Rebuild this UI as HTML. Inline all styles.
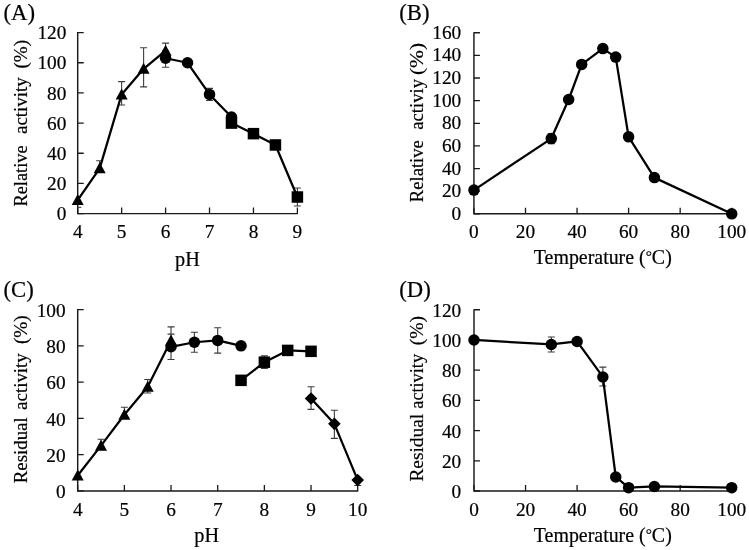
<!DOCTYPE html>
<html><head><meta charset="utf-8"><title>Figure</title>
<style>
html,body{margin:0;padding:0;background:#fff;}
body{width:749px;height:550px;overflow:hidden;}
svg{display:block;font-family:"Liberation Serif",serif;fill:#000;stroke:#000;stroke-width:0;filter:blur(0.4px);}
text{stroke-width:0.2px;}
</style></head><body>
<svg width="749" height="550" viewBox="0 0 749 550">
<rect width="749" height="550" fill="#fff"/>
<g><path d="M77.70 32.10V213.60H297.90" fill="none" stroke="#1a1a1a" stroke-width="1.45"/>
<text x="66.30" y="220.30" text-anchor="end" font-size="19.3">0</text>
<text x="66.30" y="190.13" text-anchor="end" font-size="19.3">20</text>
<text x="66.30" y="159.97" text-anchor="end" font-size="19.3">40</text>
<text x="66.30" y="129.80" text-anchor="end" font-size="19.3">60</text>
<text x="66.30" y="99.63" text-anchor="end" font-size="19.3">80</text>
<text x="66.30" y="69.47" text-anchor="end" font-size="19.3">100</text>
<text x="66.30" y="39.30" text-anchor="end" font-size="19.3">120</text>
<text x="77.70" y="237.70" text-anchor="middle" font-size="19.3">4</text>
<text x="121.64" y="237.70" text-anchor="middle" font-size="19.3">5</text>
<text x="165.58" y="237.70" text-anchor="middle" font-size="19.3">6</text>
<text x="209.52" y="237.70" text-anchor="middle" font-size="19.3">7</text>
<text x="253.46" y="237.70" text-anchor="middle" font-size="19.3">8</text>
<text x="297.40" y="237.70" text-anchor="middle" font-size="19.3">9</text>
<path d="M77.70 213.60h6 M77.70 183.43h6 M77.70 153.27h6 M77.70 123.10h6 M77.70 92.93h6 M77.70 62.77h6 M77.70 32.60h6 M77.70 213.60v-6 M121.64 213.60v-6 M165.58 213.60v-6 M209.52 213.60v-6 M253.46 213.60v-6 M297.40 213.60v-6" fill="none" stroke="#1a1a1a" stroke-width="1.3"/>
<path d="M99.67 160.81V168.35 M96.17 160.81h7 M121.64 81.62V105.00 M118.14 81.62h7 M118.14 105.00h7 M143.61 47.68V86.90 M140.11 47.68h7 M140.11 86.90h7 M165.58 43.16V58.24 M162.08 43.16h7 M162.08 58.24h7 M165.58 50.70V67.29 M162.08 50.70h7 M162.08 67.29h7 M209.52 88.41V100.47 M206.02 88.41h7 M206.02 100.47h7 M297.40 187.96V206.06 M293.90 187.96h7 M293.90 206.06h7 M275.43 140.45V149.50 M271.93 140.45h7 M271.93 149.50h7" fill="none" stroke="#3c3c3c" stroke-width="1.1"/>
<path d="M77.70 200.03 L99.67 168.35 L121.64 94.44 L143.61 68.80 L165.58 50.70" fill="none" stroke="#000" stroke-width="2.25" stroke-linejoin="round"/>
<path d="M77.70 194.03L83.70 205.03H71.70Z"/>
<path d="M99.67 162.35L105.67 173.35H93.67Z"/>
<path d="M121.64 88.44L127.64 99.44H115.64Z"/>
<path d="M143.61 62.80L149.61 73.80H137.61Z"/>
<path d="M165.58 44.70L171.58 55.70H159.58Z"/>
<path d="M165.58 58.24 L187.55 62.77 L209.52 94.44 L231.49 117.07" fill="none" stroke="#000" stroke-width="2.25" stroke-linejoin="round"/>
<circle cx="165.58" cy="58.24" r="5.75"/>
<circle cx="187.55" cy="62.77" r="5.75"/>
<circle cx="209.52" cy="94.44" r="5.75"/>
<circle cx="231.49" cy="117.07" r="5.75"/>
<path d="M231.49 123.10 L253.46 133.66 L275.43 144.97 L297.40 197.01" fill="none" stroke="#000" stroke-width="2.25" stroke-linejoin="round"/>
<rect x="225.74" y="117.35" width="11.5" height="11.5"/>
<rect x="247.71" y="127.91" width="11.5" height="11.5"/>
<rect x="269.68" y="139.22" width="11.5" height="11.5"/>
<rect x="291.65" y="191.26" width="11.5" height="11.5"/>
<text x="3.50" y="19.90" font-size="22.7">(A)</text>
<text transform="translate(27.20 206.60) rotate(-90)" font-size="19.4" textLength="61.20" lengthAdjust="spacingAndGlyphs">Relative</text>
<text transform="translate(27.20 134.00) rotate(-90)" font-size="19.4" textLength="56.70" lengthAdjust="spacingAndGlyphs">activity</text>
<text transform="translate(27.20 68.50) rotate(-90)" font-size="19.4" textLength="28.70" lengthAdjust="spacingAndGlyphs">(%)</text>
<text x="187.50" y="265.90" text-anchor="middle" font-size="20.3">pH</text><path d="M77.7 207.3h3.6" fill="none" stroke="#3c3c3c" stroke-width="1.1"/></g>
<g><path d="M473.93 32.23V213.84H732.23" fill="none" stroke="#1a1a1a" stroke-width="1.45"/>
<text x="461.23" y="219.94" text-anchor="end" font-size="19.3">0</text>
<text x="461.23" y="197.30" text-anchor="end" font-size="19.3">20</text>
<text x="461.23" y="174.66" text-anchor="end" font-size="19.3">40</text>
<text x="461.23" y="152.02" text-anchor="end" font-size="19.3">60</text>
<text x="461.23" y="129.38" text-anchor="end" font-size="19.3">80</text>
<text x="461.23" y="106.75" text-anchor="end" font-size="19.3">100</text>
<text x="461.23" y="84.11" text-anchor="end" font-size="19.3">120</text>
<text x="461.23" y="61.47" text-anchor="end" font-size="19.3">140</text>
<text x="461.23" y="38.83" text-anchor="end" font-size="19.3">160</text>
<text x="473.93" y="237.84" text-anchor="middle" font-size="19.3">0</text>
<text x="525.49" y="237.84" text-anchor="middle" font-size="19.3">20</text>
<text x="577.05" y="237.84" text-anchor="middle" font-size="19.3">40</text>
<text x="628.61" y="237.84" text-anchor="middle" font-size="19.3">60</text>
<text x="680.17" y="237.84" text-anchor="middle" font-size="19.3">80</text>
<text x="731.73" y="237.84" text-anchor="middle" font-size="19.3">100</text>
<path d="M473.93 213.84h6 M473.93 191.20h6 M473.93 168.56h6 M473.93 145.92h6 M473.93 123.28h6 M473.93 100.65h6 M473.93 78.01h6 M473.93 55.37h6 M473.93 32.73h6 M473.93 213.84v-6 M525.49 213.84v-6 M577.05 213.84v-6 M628.61 213.84v-6 M680.17 213.84v-6 M731.73 213.84v-6" fill="none" stroke="#1a1a1a" stroke-width="1.3"/>
<path d="M551.27 133.47V143.66 M547.77 133.47h7 M547.77 143.66h7 M602.83 45.18V51.97 M599.33 45.18h7 M599.33 51.97h7" fill="none" stroke="#3c3c3c" stroke-width="1.1"/>
<path d="M473.93 190.07 L551.27 138.57 L568.67 99.51 L581.69 64.42 L602.83 48.58 L615.72 57.07 L628.61 136.87 L654.39 177.62 L731.73 213.84" fill="none" stroke="#000" stroke-width="2.25" stroke-linejoin="round"/>
<circle cx="473.93" cy="190.07" r="5.75"/>
<circle cx="551.27" cy="138.57" r="5.75"/>
<circle cx="568.67" cy="99.51" r="5.75"/>
<circle cx="581.69" cy="64.42" r="5.75"/>
<circle cx="602.83" cy="48.58" r="5.75"/>
<circle cx="615.72" cy="57.07" r="5.75"/>
<circle cx="628.61" cy="136.87" r="5.75"/>
<circle cx="654.39" cy="177.62" r="5.75"/>
<circle cx="731.73" cy="213.84" r="5.75"/>
<text x="399.20" y="20.03" font-size="22.7">(B)</text>
<text transform="translate(423.20 202.20) rotate(-90)" font-size="19.4" textLength="62.00" lengthAdjust="spacingAndGlyphs">Relative</text>
<text transform="translate(423.20 129.70) rotate(-90)" font-size="19.4" textLength="50.70" lengthAdjust="spacingAndGlyphs">activiy</text>
<text transform="translate(423.20 75.10) rotate(-90)" font-size="19.4" textLength="32.30" lengthAdjust="spacingAndGlyphs">(%)</text>
<text x="602.80" y="263.90" text-anchor="middle" font-size="19.9">Temperature (<tspan font-size="15.5" dy="-3">°</tspan><tspan dy="3">C)</tspan></text></g>
<g><path d="M77.70 309.10V490.97H358.20" fill="none" stroke="#1a1a1a" stroke-width="1.45"/>
<text x="65.60" y="498.12" text-anchor="end" font-size="19.3">0</text>
<text x="65.60" y="461.85" text-anchor="end" font-size="19.3">20</text>
<text x="65.60" y="425.57" text-anchor="end" font-size="19.3">40</text>
<text x="65.60" y="389.30" text-anchor="end" font-size="19.3">60</text>
<text x="65.60" y="353.02" text-anchor="end" font-size="19.3">80</text>
<text x="65.60" y="316.75" text-anchor="end" font-size="19.3">100</text>
<text x="77.70" y="516.27" text-anchor="middle" font-size="19.3">4</text>
<text x="124.37" y="516.27" text-anchor="middle" font-size="19.3">5</text>
<text x="171.03" y="516.27" text-anchor="middle" font-size="19.3">6</text>
<text x="217.70" y="516.27" text-anchor="middle" font-size="19.3">7</text>
<text x="264.37" y="516.27" text-anchor="middle" font-size="19.3">8</text>
<text x="311.03" y="516.27" text-anchor="middle" font-size="19.3">9</text>
<text x="357.70" y="516.27" text-anchor="middle" font-size="19.3">10</text>
<path d="M77.70 490.97h6 M77.70 454.70h6 M77.70 418.42h6 M77.70 382.15h6 M77.70 345.87h6 M77.70 309.60h6 M77.70 490.97v-6 M124.37 490.97v-6 M171.03 490.97v-6 M217.70 490.97v-6 M264.37 490.97v-6 M311.03 490.97v-6 M357.70 490.97v-6" fill="none" stroke="#1a1a1a" stroke-width="1.3"/>
<path d="M101.03 439.28V445.63 M97.53 439.28h7 M124.37 407.18V414.79 M120.87 407.18h7 M147.70 379.43V393.03 M144.20 379.43h7 M144.20 393.03h7 M171.03 326.83V347.69 M167.53 326.83h7 M167.53 347.69h7 M171.03 334.08V359.48 M167.53 334.08h7 M167.53 359.48h7 M194.37 332.27V352.22 M190.87 332.27h7 M190.87 352.22h7 M217.70 327.74V353.13 M214.20 327.74h7 M214.20 353.13h7 M264.37 355.85V368.55 M260.87 355.85h7 M260.87 368.55h7 M311.03 386.68V409.35 M307.53 386.68h7 M307.53 409.35h7 M334.37 410.26V438.37 M330.87 410.26h7 M330.87 438.37h7 M357.70 480.09V485.53 M354.20 485.53h7" fill="none" stroke="#3c3c3c" stroke-width="1.1"/>
<path d="M77.70 475.55 L101.03 445.63 L124.37 414.79 L147.70 386.68 L171.03 340.43" fill="none" stroke="#000" stroke-width="2.25" stroke-linejoin="round"/>
<path d="M77.70 469.55L83.70 480.55H71.70Z"/>
<path d="M101.03 439.63L107.03 450.63H95.03Z"/>
<path d="M124.37 408.79L130.37 419.79H118.37Z"/>
<path d="M147.70 380.68L153.70 391.68H141.70Z"/>
<path d="M171.03 334.43L177.03 345.43H165.03Z"/>
<path d="M171.03 346.78 L194.37 342.25 L217.70 340.43 L241.03 345.87" fill="none" stroke="#000" stroke-width="2.25" stroke-linejoin="round"/>
<circle cx="171.03" cy="346.78" r="5.75"/>
<circle cx="194.37" cy="342.25" r="5.75"/>
<circle cx="217.70" cy="340.43" r="5.75"/>
<circle cx="241.03" cy="345.87" r="5.75"/>
<path d="M241.03 380.33 L264.37 362.20 L287.70 350.41 L311.03 351.32" fill="none" stroke="#000" stroke-width="2.25" stroke-linejoin="round"/>
<rect x="235.28" y="374.58" width="11.5" height="11.5"/>
<rect x="258.62" y="356.45" width="11.5" height="11.5"/>
<rect x="281.95" y="344.66" width="11.5" height="11.5"/>
<rect x="305.28" y="345.57" width="11.5" height="11.5"/>
<path d="M311.03 398.47 L334.37 423.86 L357.70 480.09" fill="none" stroke="#000" stroke-width="2.25" stroke-linejoin="round"/>
<path d="M311.03 392.17L317.33 398.47L311.03 404.77L304.73 398.47Z"/>
<path d="M334.37 417.56L340.67 423.86L334.37 430.16L328.07 423.86Z"/>
<path d="M357.70 473.79L364.00 480.09L357.70 486.39L351.40 480.09Z"/>
<text x="3.50" y="296.90" font-size="22.7">(C)</text>
<text transform="translate(27.20 483.30) rotate(-90)" font-size="19.4" textLength="66.00" lengthAdjust="spacingAndGlyphs">Residual</text>
<text transform="translate(27.20 409.90) rotate(-90)" font-size="19.4" textLength="56.70" lengthAdjust="spacingAndGlyphs">activity</text>
<text transform="translate(27.20 344.10) rotate(-90)" font-size="19.4" textLength="28.90" lengthAdjust="spacingAndGlyphs">(%)</text>
<text x="206.70" y="541.70" text-anchor="middle" font-size="20.3">pH</text></g>
<g><path d="M474.00 309.24V491.00H732.20" fill="none" stroke="#1a1a1a" stroke-width="1.45"/>
<text x="461.20" y="498.10" text-anchor="end" font-size="19.3">0</text>
<text x="461.20" y="467.89" text-anchor="end" font-size="19.3">20</text>
<text x="461.20" y="437.68" text-anchor="end" font-size="19.3">40</text>
<text x="461.20" y="407.47" text-anchor="end" font-size="19.3">60</text>
<text x="461.20" y="377.26" text-anchor="end" font-size="19.3">80</text>
<text x="461.20" y="347.05" text-anchor="end" font-size="19.3">100</text>
<text x="461.20" y="316.84" text-anchor="end" font-size="19.3">120</text>
<text x="474.00" y="516.30" text-anchor="middle" font-size="19.3">0</text>
<text x="525.54" y="516.30" text-anchor="middle" font-size="19.3">20</text>
<text x="577.08" y="516.30" text-anchor="middle" font-size="19.3">40</text>
<text x="628.62" y="516.30" text-anchor="middle" font-size="19.3">60</text>
<text x="680.16" y="516.30" text-anchor="middle" font-size="19.3">80</text>
<text x="731.70" y="516.30" text-anchor="middle" font-size="19.3">100</text>
<path d="M474.00 491.00h6 M474.00 460.79h6 M474.00 430.58h6 M474.00 400.37h6 M474.00 370.16h6 M474.00 339.95h6 M474.00 309.74h6 M474.00 491.00v-6 M525.54 491.00v-6 M577.08 491.00v-6 M628.62 491.00v-6 M680.16 491.00v-6 M731.70 491.00v-6" fill="none" stroke="#1a1a1a" stroke-width="1.3"/>
<path d="M551.31 336.93V352.03 M547.81 336.93h7 M547.81 352.03h7 M602.85 367.14V386.02 M599.35 367.14h7 M599.35 386.02h7" fill="none" stroke="#3c3c3c" stroke-width="1.1"/>
<path d="M474.00 339.95 L551.31 344.48 L577.08 341.46 L602.85 376.96 L615.74 476.95 L628.62 487.68 L654.39 486.47 L731.70 487.68" fill="none" stroke="#000" stroke-width="2.25" stroke-linejoin="round"/>
<circle cx="474.00" cy="339.95" r="5.75"/>
<circle cx="551.31" cy="344.48" r="5.75"/>
<circle cx="577.08" cy="341.46" r="5.75"/>
<circle cx="602.85" cy="376.96" r="5.75"/>
<circle cx="615.74" cy="476.95" r="5.75"/>
<circle cx="628.62" cy="487.68" r="5.75"/>
<circle cx="654.39" cy="486.47" r="5.75"/>
<circle cx="731.70" cy="487.68" r="5.75"/>
<text x="399.20" y="297.04" font-size="22.7">(D)</text>
<text transform="translate(423.20 481.60) rotate(-90)" font-size="19.4" textLength="67.80" lengthAdjust="spacingAndGlyphs">Residual</text>
<text transform="translate(423.20 408.70) rotate(-90)" font-size="19.4" textLength="54.70" lengthAdjust="spacingAndGlyphs">activity</text>
<text transform="translate(423.20 345.30) rotate(-90)" font-size="19.4" textLength="29.30" lengthAdjust="spacingAndGlyphs">(%)</text>
<text x="602.80" y="542.40" text-anchor="middle" font-size="19.9">Temperature (<tspan font-size="15.5" dy="-3">°</tspan><tspan dy="3">C)</tspan></text></g>
</svg>
</body></html>
